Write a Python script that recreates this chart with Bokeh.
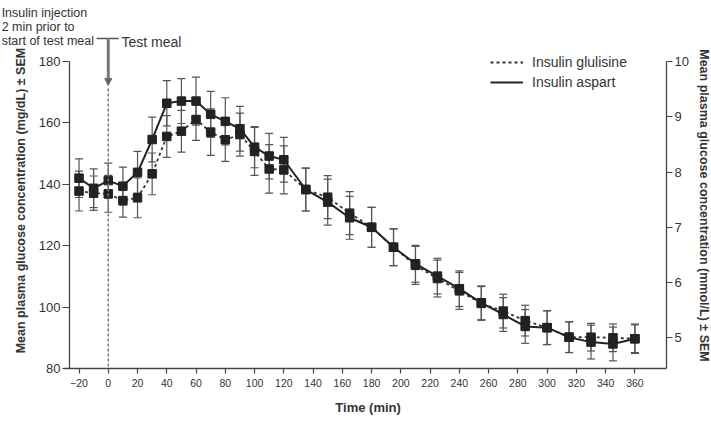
from math import pi
from bokeh.plotting import figure
from bokeh.models import (Range1d, LinearAxis, FixedTicker, Whisker, TeeHead, ColumnDataSource,
                          Legend, LegendItem, Label, Arrow, NormalHead)
from bokeh.embed import file_html
from bokeh.resources import INLINE

# ---------------- data ----------------
time_min = [-20, -10, 0, 10, 20, 30, 40, 50, 60, 70, 80, 90, 100, 110, 120,
            135, 150, 165, 180, 195, 210, 225, 240, 255, 270, 285, 300, 315, 330, 345, 360]
aspart = [142.0, 138.7, 141.2, 139.4, 143.9, 154.6, 166.4, 167.1, 167.1, 162.8, 160.5, 158.1,
          152.1, 149.2, 148.0, 138.3, 134.2, 129.1, 126.0, 119.5, 114.1, 110.1, 106.0, 101.4,
          97.6, 93.7, 93.3, 90.2, 88.6, 88.0, 89.7]
aspart_sem = [6.3, 6.3, 5.7, 6.2, 6.8, 7.3, 7.4, 7.3, 7.8, 7.5, 7.7, 7.3, 6.7, 7.4, 7.3,
              7.0, 7.5, 7.0, 6.5, 6.0, 6.0, 5.8, 5.8, 5.5, 5.5, 5.5, 5.5, 5.0, 5.5, 5.5, 4.8]
glulisine = [137.8, 137.1, 136.9, 134.7, 135.6, 143.4, 155.6, 157.3, 161.1, 157.0, 154.5, 156.2,
             150.7, 145.0, 144.7, 138.3, 135.8, 130.6, 126.0, 119.5, 113.6, 109.3, 105.3, 101.2,
             98.7, 95.6, 93.3, 90.2, 90.2, 90.0, 89.7]
glulisine_sem = [6.5, 5.6, 6.0, 5.4, 6.5, 6.8, 6.8, 6.8, 6.8, 7.6, 7.0, 7.0, 7.8, 7.9, 7.8,
                 7.0, 7.0, 7.0, 6.5, 6.0, 6.2, 6.0, 6.0, 5.5, 5.5, 5.0, 5.5, 5.0, 4.5, 4.5, 4.5]

x_ticks = list(range(-20, 361, 20))
mgdl_ticks = [80, 100, 120, 140, 160, 180]
mmol_ticks = [5, 6, 7, 8, 9, 10]
MGDL_PER_MMOL = 18.0

FONT = "Liberation Sans"
TXT = "#333333"
AX = "#444444"

# data window of the plotted area (axes drawn at fixed locations inside a full-canvas frame)
X_LEFT, X_RIGHT = -26.5, 381.6
X_MIN, X_MAX = -73.67, 412.36
Y_MIN, Y_MAX = 62.74, 199.87

p = figure(width=711, height=421, output_backend="svg", toolbar_location=None,
           x_range=Range1d(X_MIN, X_MAX), y_range=Range1d(Y_MIN, Y_MAX),
           min_border_left=0, min_border_right=0, min_border_top=0, min_border_bottom=0)
p.outline_line_color = None
p.xgrid.visible = False
p.ygrid.visible = False

def style_axis(ax, size):
    ax.axis_line_color = AX
    ax.axis_line_width = 1.3
    ax.major_tick_line_color = AX
    ax.major_tick_line_width = 1.2
    ax.major_tick_in = 0
    ax.minor_tick_line_color = None
    ax.major_label_text_font = FONT
    ax.major_label_text_font_size = size
    ax.major_label_text_color = TXT

xa = p.xaxis[0]
style_axis(xa, "10.5px")
xa.ticker = FixedTicker(ticks=x_ticks)
xa.fixed_location = mgdl_ticks[0]
xa.bounds = (-30.6, X_RIGHT)
xa.major_tick_out = 5
xa.major_label_standoff = 5

ya = p.yaxis[0]
style_axis(ya, "13px")
ya.ticker = FixedTicker(ticks=mgdl_ticks)
ya.fixed_location = X_LEFT
ya.bounds = (mgdl_ticks[0], mgdl_ticks[-1])
ya.major_tick_out = 7
ya.major_label_standoff = 2

p.extra_y_ranges = {"mmol": Range1d(Y_MIN / MGDL_PER_MMOL, Y_MAX / MGDL_PER_MMOL)}
ra = LinearAxis(y_range_name="mmol", ticker=FixedTicker(ticks=mmol_ticks))
style_axis(ra, "13px")
ra.fixed_location = X_RIGHT
ra.bounds = (mgdl_ticks[0] / MGDL_PER_MMOL, mmol_ticks[-1])
ra.major_tick_out = 6
ra.major_label_standoff = 2
p.add_layout(ra, "right")

# ---------------- error bars ----------------
src_a = ColumnDataSource(dict(t=time_min, y=aspart,
                              lo=[v - s for v, s in zip(aspart, aspart_sem)],
                              hi=[v + s for v, s in zip(aspart, aspart_sem)]))
src_g = ColumnDataSource(dict(t=time_min, y=glulisine,
                              lo=[v - s for v, s in zip(glulisine, glulisine_sem)],
                              hi=[v + s for v, s in zip(glulisine, glulisine_sem)]))
for src in (src_g, src_a):
    w = Whisker(source=src, base="t", upper="hi", lower="lo", dimension="height",
                line_color="#555555", line_width=1.2,
                upper_head=TeeHead(size=8, line_color="#555555", line_width=1.2),
                lower_head=TeeHead(size=8, line_color="#555555", line_width=1.2))
    p.add_layout(w)

# ---------------- lines & markers ----------------
line_g = p.line("t", "y", source=src_g, line_color="#333333", line_width=1.8, line_dash="3 3")
line_a = p.line("t", "y", source=src_a, line_color="#222222", line_width=2)
p.scatter("t", "y", source=src_g, marker="square", size=8.5, fill_color="#222222", line_color="#222222")
p.scatter("t", "y", source=src_a, marker="square", size=8.5, fill_color="#222222", line_color="#222222")

# ---------------- test meal marker ----------------
p.segment(x0=[0], y0=[171.2], x1=[0], y1=[80], line_color="#777777", line_width=1.5, line_dash="3 2")
p.add_layout(Arrow(x_start=0, y_start=187.5, x_end=0, y_end=172.2, line_color="#777777", line_width=3,
                   end=NormalHead(size=7, fill_color="#666666", line_color="#666666")))
p.segment(x0=[-8], y0=[187.5], x1=[7], y1=[187.5], line_color="#555555", line_width=1.3)
p.add_layout(Label(x=9, y=186.5, text="Test meal", text_font=FONT, text_font_size="14px",
                   text_color=TXT, text_baseline="alphabetic"))
for txt, yy in [("Insulin injection", 195.96), ("2 min prior to", 191.40), ("start of test meal", 186.84)]:
    p.add_layout(Label(x=-72.9, y=yy, text=txt, text_font=FONT, text_font_size="12.5px",
                       text_color=TXT, text_baseline="alphabetic", text_align="left"))

# ---------------- axis titles ----------------
p.add_layout(Label(x=-59.9, y=134.7, angle=pi / 2, text="Mean plasma glucose concentration (mg/dL) ± SEM",
                   text_font=FONT, text_font_size="12.5px", text_font_style="bold", text_color=TXT,
                   text_align="center", text_baseline="middle"))
p.add_layout(Label(x=406.9, y=133.1, angle=-pi / 2, text="Mean plasma glucose concentration (mmol/L) ± SEM",
                   text_font=FONT, text_font_size="12.5px", text_font_style="bold", text_color=TXT,
                   text_align="center", text_baseline="middle"))
p.add_layout(Label(x=177.6, y=67.3, text="Time (min)", text_font=FONT, text_font_size="13px",
                   text_font_style="bold", text_color=TXT, text_align="center", text_baseline="middle"))

# ---------------- legend ----------------
legend = Legend(items=[LegendItem(label="Insulin glulisine", renderers=[line_g]),
                       LegendItem(label="Insulin aspart", renderers=[line_a])],
                location=(490, 329), orientation="vertical", glyph_width=33, glyph_height=20,
                label_height=20, label_standoff=9, spacing=0, padding=0, margin=0,
                border_line_color=None, background_fill_alpha=0,
                label_text_font=FONT, label_text_font_size="14px", label_text_color=TXT)
p.add_layout(legend)

open("out.html", "w").write(file_html(p, INLINE))
